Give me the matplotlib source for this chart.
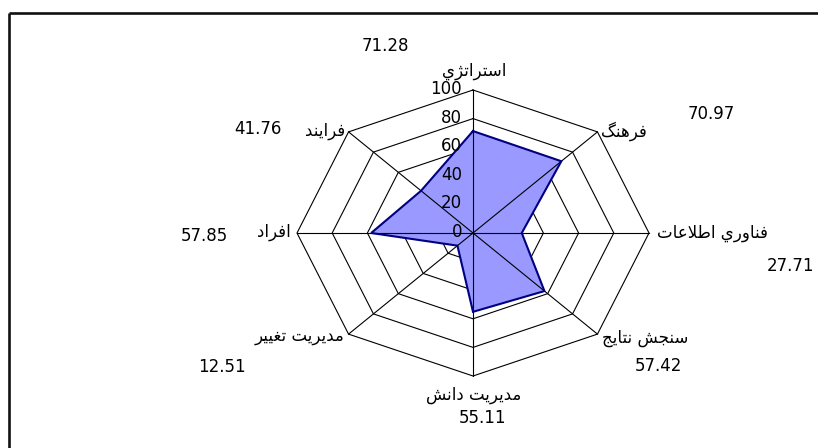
import numpy as np
import matplotlib
matplotlib.use("Agg")
import matplotlib.pyplot as plt
from matplotlib.lines import Line2D

# ---------------- data ----------------
categories = ['استراتژي', 'فرهنگ', 'فناوري اطلاعات', 'سنجش نتايج',
              'مديريت دانش', 'مديريت تغيير', 'افراد', 'فرايند']
values = [71.28, 70.97, 27.71, 57.42, 55.11, 12.51, 57.85, 41.76]
value_labels = ['71.28', '70.97', '27.71', '57.42', '55.11', '12.51', '57.85', '41.76']
ring_ticks = [0, 20, 40, 60, 80, 100]

# ---------------- Arabic shaping (presentation forms) ----------------
DUAL = {
    'ت': (0xFE95, 0xFE96, 0xFE97, 0xFE98),
    'ج': (0xFE9D, 0xFE9E, 0xFE9F, 0xFEA0),
    'س': (0xFEB1, 0xFEB2, 0xFEB3, 0xFEB4),
    'ش': (0xFEB5, 0xFEB6, 0xFEB7, 0xFEB8),
    'ط': (0xFEC1, 0xFEC2, 0xFEC3, 0xFEC4),
    'ع': (0xFEC9, 0xFECA, 0xFECB, 0xFECC),
    'غ': (0xFECD, 0xFECE, 0xFECF, 0xFED0),
    'ف': (0xFED1, 0xFED2, 0xFED3, 0xFED4),
    'ل': (0xFEDD, 0xFEDE, 0xFEDF, 0xFEE0),
    'م': (0xFEE1, 0xFEE2, 0xFEE3, 0xFEE4),
    'ن': (0xFEE5, 0xFEE6, 0xFEE7, 0xFEE8),
    'ه': (0xFEE9, 0xFEEA, 0xFEEB, 0xFEEC),
    'ي': (0xFEF1, 0xFEF2, 0xFEF3, 0xFEF4),
    'گ': (0xFB92, 0xFB93, 0xFB94, 0xFB95),
}
RIGHT = {
    'ا': (0xFE8D, 0xFE8E),
    'د': (0xFEA9, 0xFEAA),
    'ر': (0xFEAD, 0xFEAE),
    'و': (0xFEED, 0xFEEE),
    'ژ': (0xFB8A, 0xFB8B),
}


def shape(s):
    def is_ar(c):
        return c in DUAL or c in RIGHT
    out = []
    i, n = 0, len(s)
    while i < n:
        c = s[i]
        if not is_ar(c):
            out.append(c)
            i += 1
            continue
        pc = i > 0 and s[i - 1] in DUAL
        if c == 'ل' and i + 1 < n and s[i + 1] == 'ا':
            out.append(chr(0xFEFC if pc else 0xFEFB))
            i += 2
            continue
        nxt = s[i + 1] if i + 1 < n else ''
        nc = (c in DUAL) and is_ar(nxt)
        forms = DUAL.get(c) or RIGHT[c]
        if pc and nc:
            f = forms[3]
        elif pc:
            f = forms[1]
        elif nc:
            f = forms[2]
        else:
            f = forms[0]
        out.append(chr(f))
        i += 1
    return ''.join(reversed(out))


# ---------------- figure ----------------
W, H = 818, 448
fig = plt.figure(figsize=(W / 100, H / 100), dpi=100)
fig.patch.set_facecolor('white')

# chart centre (473,233) px, radius 176 px horizontally, 143 px vertically
cx, cy, rx, ry = 473, 233, 176, 143
ax = fig.add_axes([(cx - rx) / W, (H - cy - ry) / H, 2 * rx / W, 2 * ry / H])
ax.set_xlim(-100, 100)
ax.set_ylim(-100, 100)
ax.axis('off')

n = len(categories)
theta = np.arange(n) * 2 * np.pi / n
sx, sy = np.sin(theta), np.cos(theta)

# rings
for r in ring_ticks[1:]:
    ax.plot(np.append(sx, sx[0]) * r, np.append(sy, sy[0]) * r,
            color='black', lw=0.8, zorder=1, clip_on=False)

# filled series
v = np.array(values)
ax.fill(sx * v, sy * v, facecolor='#9999FF', edgecolor='none', zorder=2, clip_on=False)

# spokes
for k in range(n):
    ax.plot([0, sx[k] * 100], [0, sy[k] * 100], color='black', lw=0.8,
            zorder=3, clip_on=False)

# series outline
ax.plot(np.append(sx * v, sx[0] * v[0]), np.append(sy * v, sy[0] * v[0]),
        color='#000080', lw=1.5, zorder=4, clip_on=False, solid_joinstyle='miter')

# ring tick labels
for r in ring_ticks:
    ax.annotate(str(r), xy=(0, r), xytext=(-11, 1), textcoords='offset pixels',
                ha='right', va='center', fontsize=12, family='DejaVu Sans',
                color='black', zorder=5, annotation_clip=False)

# category labels: offsets (px) from the outer vertex
cat_offsets = [(1, 19, 'center'), (4, 1, 'left'), (8, 0, 'left'), (5, -4, 'left'),
               (1, -19, 'center'), (-4, -2, 'right'), (-6, 1, 'right'), (-3, 1, 'right')]
for k, lab in enumerate(categories):
    dx, dy, ha = cat_offsets[k]
    ax.annotate(shape(lab), xy=(sx[k] * 100, sy[k] * 100), xytext=(dx, dy),
                textcoords='offset pixels', ha=ha, va='center', fontsize=12,
                family=['DejaVu Sans'], color='black', annotation_clip=False)

# value labels (pixel centres in the image)
val_pos = [(385, 46), (711, 114), (791, 266), (658, 366), (482, 418),
           (222, 367), (204, 236), (258, 129)]
for lab, (px, py) in zip(value_labels, val_pos):
    fig.text(px / W, 1 - py / H, lab, ha='center', va='center', fontsize=12,
             family='DejaVu Sans', color='black')

# partial frame (top and left edges)
fig.add_artist(Line2D([9 / W, 1.0], [1 - 13 / H, 1 - 13 / H], transform=fig.transFigure,
                      color='#111111', lw=1.9, solid_capstyle='butt'))
fig.add_artist(Line2D([9 / W, 9 / W], [0.0, 1 - 13 / H], transform=fig.transFigure,
                      color='#111111', lw=1.9, solid_capstyle='butt'))

fig.savefig('out.png', dpi=100, facecolor='white')
